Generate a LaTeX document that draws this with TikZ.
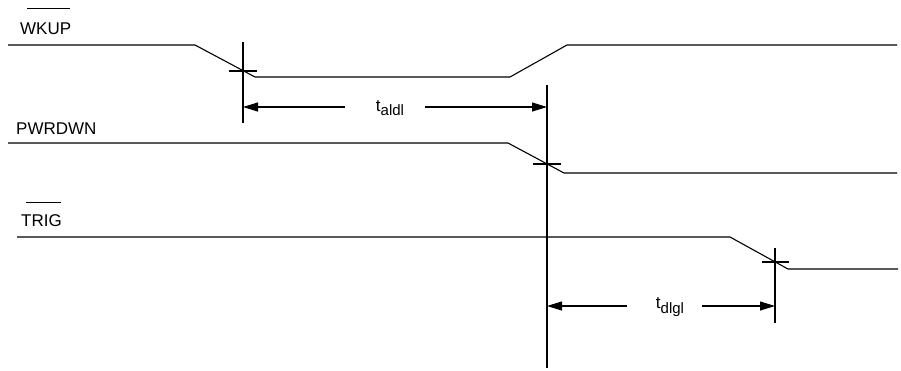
\documentclass[tikz,border=0pt]{standalone}
\usepackage{fontspec}
\setmainfont{Liberation Sans}
\usetikzlibrary{arrows.meta}
\begin{document}
\begin{tikzpicture}[x=1pt,y=-1pt,
  sig/.style={line width=1.1pt},
  markline/.style={line width=1.1pt},
  dim/.style={line width=1.1pt,-{Triangle[length=15pt,width=9pt]}},
  lbl/.style={inner sep=0pt,font=\fontsize{17}{20}\selectfont},
  tlbl/.style={inner sep=0pt,font=\fontsize{17}{20}\selectfont}]
\useasboundingbox (0,0) rectangle (901,370);
% labels
\node[lbl,anchor=base west] (wkup) at (20,34) {WKUP};
\node[lbl,anchor=base west] (pwrdwn) at (16,134) {PWRDWN};
\node[lbl,anchor=base west] (trig) at (21,226) {TRIG};
\draw[line width=1.1pt] ([xshift=7pt,yshift=14pt]wkup.north west) -- ([xshift=-1pt,yshift=14pt]wkup.north east);
\draw[line width=1.1pt] ([xshift=5pt,yshift=11pt]trig.north west) -- ([xshift=-1pt,yshift=11pt]trig.north east);
% WKUP waveform
\coordinate (w0) at (8,45);
\coordinate (w1) at (195,45);
\coordinate (w2) at (255,77);
\coordinate (w3) at (510,77);
\coordinate (w4) at (567,45);
\coordinate (w5) at (897,45);
\draw[sig] (w0) -- (w1) -- (w2) -- (w3) -- (w4) -- (w5);
% PWRDWN waveform
\coordinate (p0) at (8,143);
\coordinate (p1) at (508,143);
\coordinate (p2) at (564,173);
\coordinate (p3) at (897,173);
\draw[sig] (p0) -- (p1) -- (p2) -- (p3);
% TRIG waveform
\coordinate (g0) at (17,237);
\coordinate (g1) at (730,237);
\coordinate (g2) at (788,269);
\coordinate (g3) at (898,269);
\draw[sig] (g0) -- (g1) -- (g2) -- (g3);
% markers
\coordinate (aT) at (243,42); \coordinate (aB) at (243,123);
\coordinate (aL) at (229,71); \coordinate (aR) at (257,71);
\draw[markline] (aT) -- (aB); \draw[markline] (aL) -- (aR);
\coordinate (bT) at (547,85); \coordinate (bB) at (547,368);
\coordinate (bL) at (533,164); \coordinate (bR) at (561,164);
\draw[markline] (bT) -- (bB); \draw[markline] (bL) -- (bR);
\coordinate (cT) at (775,248); \coordinate (cB) at (775,323);
\coordinate (cL) at (762,262); \coordinate (cR) at (789,262);
\draw[markline] (cT) -- (cB); \draw[markline] (cL) -- (cR);
% timing taldl
\node[tlbl] (taldl) at (390,108) {t{\fontsize{15}{15}\selectfont\raisebox{-4.5pt}{aldl}}};
\coordinate (a0) at (345,107); \coordinate (a3) at (425,107);
\coordinate (a1) at (243,107); \coordinate (a2) at (547,107);
\draw[dim] (a0) -- (a1);
\draw[dim] (a3) -- (a2);
% timing tdlgl
\node[tlbl] (tdlgl) at (670,307) {t{\fontsize{15}{15}\selectfont\raisebox{-4.5pt}{dlgl}}};
\coordinate (d0) at (627,306); \coordinate (d3) at (702,306);
\coordinate (d1) at (547,306); \coordinate (d2) at (775,306);
\draw[dim] (d0) -- (d1);
\draw[dim] (d3) -- (d2);
\end{tikzpicture}
\end{document}
